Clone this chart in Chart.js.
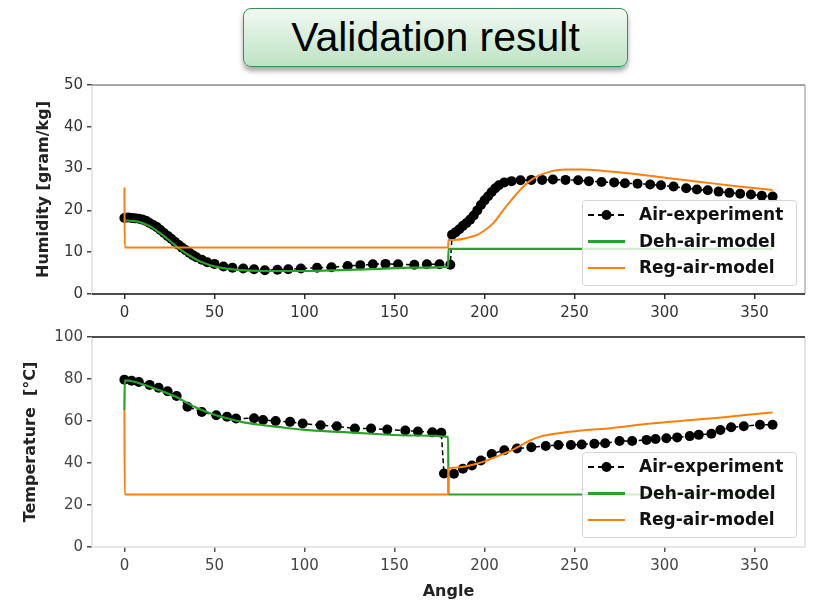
<!DOCTYPE html>
<html>
<head>
<meta charset="utf-8">
<script src="https://cdn.jsdelivr.net/npm/chart.js@4.4.1/dist/chart.umd.min.js"></script>
<style>
  html, body { margin: 0; padding: 0; background: #fff; }
  body { width: 818px; height: 602px; position: relative; overflow: hidden; }
  .title-box {
    position: absolute; left: 243px; top: 8px; width: 383px; height: 57px;
    border: 1.5px solid #3a8f56; border-radius: 8px;
    background: linear-gradient(#f1f9f2, #bde3c4);
    box-shadow: 0 4px 5px rgba(0,0,0,.35);
    display: flex; align-items: center; justify-content: center;
    font-family: 'Liberation Sans', Arial, sans-serif; font-size: 41px; color: #000;
  }
  canvas { position: absolute; left: 0; }
  #chart-hum { top: 70px; }
  #chart-temp { top: 324px; }
</style>
</head>
<body>
<div class="title-box">Validation result</div>
<canvas id="chart-hum" width="818" height="254"></canvas>
<canvas id="chart-temp" width="818" height="278"></canvas>
<script>
/* ── TICKS ── */
const xTicks    = [0, 50, 100, 150, 200, 250, 300, 350];
const humTicks  = [0, 10, 20, 30, 40, 50];
const tempTicks = [0, 20, 40, 60, 80, 100];

/* ── HUMIDITY (top) ── */
const humExpAngle = [0, 2, 4, 6, 8, 10, 12, 14, 16, 18, 20, 22, 24, 26, 28, 30, 32, 34, 36, 38, 40, 43, 46, 50, 55, 60, 66, 72, 78, 85, 91, 98, 107, 115, 124, 131, 138, 145, 152, 161, 168, 175, 181,
  182, 184, 186, 188, 190, 192, 194, 196, 198, 200, 202, 204, 206, 208, 211, 215, 220, 226, 232, 238, 245, 252, 258, 265, 272, 278, 285, 292, 298, 305, 312, 318, 324, 330, 336, 342, 348, 354, 360];
const humExp = [18.2, 18.3, 18.2, 18.1, 18.0, 17.8, 17.5, 17.0, 16.5, 16.0, 15.3, 14.6, 13.9, 13.2, 12.5, 11.8, 11.1, 10.5, 9.9, 9.3, 8.8, 8.2, 7.6, 7.2, 6.6, 6.3, 6.1, 5.9, 5.7, 5.8, 5.9, 6.1, 6.3, 6.4, 6.7, 6.9, 7.1, 7.2, 7.1, 7.0, 7.1, 7.1, 7.0,
  14.2, 14.8, 15.5, 16.3, 17.0, 17.8, 18.8, 20.0, 21.3, 22.4, 23.4, 24.4, 25.3, 26.0, 26.7, 27.0, 27.2, 27.3, 27.3, 27.4, 27.3, 27.2, 27.0, 26.8, 26.7, 26.5, 26.4, 26.2, 26.0, 25.7, 25.3, 25.0, 24.8, 24.5, 24.2, 24.0, 23.8, 23.5, 23.3];

const humDehAngle = [0, 5, 10, 15, 20, 25, 30, 35, 40, 45, 50, 55, 60, 70, 80, 100, 120, 140, 160, 179.8, 180, 360];
const humDeh      = [17.6, 17.5, 17.0, 16.0, 14.5, 12.8, 11.0, 9.5, 8.2, 7.3, 6.6, 6.2, 5.9, 5.6, 5.5, 5.5, 5.7, 6.0, 6.3, 6.5, 10.8, 10.8];

const humRegAngle = [0, 0.2, 179.8, 180, 185, 190, 195, 200, 205, 210, 215, 220, 225, 230, 235, 240, 245, 255, 265, 280, 300, 320, 340, 360];
const humReg      = [25.5, 11.1, 11.1, 12.9, 13.0, 13.4, 14.0, 15.2, 17.0, 19.8, 22.5, 25.0, 27.0, 28.3, 29.1, 29.6, 29.8, 29.8, 29.5, 28.9, 27.8, 26.8, 25.8, 24.9];

/* ── TEMPERATURE (bottom) ── */
const tempExpAngle = [0, 4, 8, 14, 19, 24, 29, 35, 43, 51, 57, 62, 72, 77, 84, 92, 99, 109, 118, 128, 137, 146, 156, 163, 171, 176,
  177.5, 183, 188, 193, 198, 204, 211, 218, 226, 234, 241, 248, 254, 261, 267, 275, 282, 290, 295, 301, 307, 314, 319, 326, 331, 337, 344, 353, 360];
const tempExp = [79.7, 79.2, 78.6, 77.2, 75.8, 74.2, 71.9, 66.8, 64.3, 62.7, 62.0, 61.2, 61.3, 60.5, 60.0, 59.6, 58.8, 58.0, 57.5, 56.4, 56.4, 55.9, 55.5, 55.0, 54.6, 54.4,
  35.0, 34.9, 37.3, 38.8, 41.2, 44.3, 46.1, 46.9, 47.5, 48.1, 48.6, 48.6, 48.8, 49.2, 49.4, 50.5, 50.5, 51.0, 51.4, 51.8, 52.2, 52.8, 53.4, 53.9, 55.7, 57.0, 57.5, 58.2, 58.2];

const tempDehAngle = [0, 0.2, 5, 10, 15, 20, 25, 30, 35, 40, 45, 50, 55, 65, 75, 85, 100, 120, 140, 160, 179.8, 180, 360];
const tempDeh      = [65, 79.3, 78.8, 77.5, 76.0, 74.5, 72.8, 71.0, 68.5, 66.3, 64.5, 63.0, 61.8, 59.6, 58.2, 57.2, 55.8, 54.8, 53.8, 53.1, 52.4, 25.0, 25.0];

const tempRegAngle = [0, 0.2, 179.8, 180, 185, 190, 195, 200, 205, 210, 215, 220, 225, 230, 235, 245, 255, 270, 290, 310, 330, 345, 360];
const tempReg      = [65, 25, 25, 37.5, 37.9, 38.5, 39.5, 40.8, 42.5, 44.2, 46.0, 48.3, 50.6, 52.3, 53.3, 54.6, 55.6, 56.6, 58.6, 60.1, 61.6, 62.8, 64.1];

const seriesLabels = ['Air-experiment', 'Deh-air-model', 'Reg-air-model'];
const GREEN = '#2ca02c';
const ORANGE = '#ff7f0e';

function pts(xs, ys) { return xs.map((x, i) => ({ x, y: ys[i] })); }

/* ── spines + legend (matplotlib style, legend inside lower right) ── */
const framePlugin = {
  id: 'frame',
  afterDatasetsDraw(chart, args, o) {
    const { ctx, chartArea: a } = chart;
    ctx.save();
    ctx.lineWidth = 1.5;
    const side = (c, x1, y1, x2, y2) => { ctx.strokeStyle = c; ctx.beginPath(); ctx.moveTo(x1, y1); ctx.lineTo(x2, y2); ctx.stroke(); };
    side(o.left, a.left, a.top, a.left, a.bottom);
    side(o.right, a.right, a.top, a.right, a.bottom);
    side(o.bottom, a.left, a.bottom, a.right, a.bottom);
    side(o.top, a.left, a.top, a.right, a.top);

    // legend box
    const w = 214, h = 85;
    const bx = a.right - 9 - w, by = a.bottom - o.legendGap - h;
    ctx.fillStyle = 'rgba(255,255,255,0.8)';
    ctx.strokeStyle = '#d6d6d6';
    ctx.lineWidth = 1;
    ctx.beginPath();
    ctx.roundRect(bx + 0.5, by + 0.5, w, h, 3);
    ctx.fill(); ctx.stroke();

    const rows = [15, 41.5, 68];
    ctx.font = 'bold 17px "DejaVu Sans"';
    ctx.textBaseline = 'middle';
    ctx.fillStyle = '#111';
    seriesLabels.forEach((lab, i) => {
      const y = by + rows[i];
      const ds = chart.data.datasets[i];
      ctx.strokeStyle = ds.borderColor;
      ctx.lineWidth = i === 1 ? 3 : 2;
      ctx.setLineDash(i === 0 ? [6, 4] : []);
      ctx.beginPath(); ctx.moveTo(bx + 6, y); ctx.lineTo(bx + 43, y); ctx.stroke();
      ctx.setLineDash([]);
      if (i === 0) { ctx.beginPath(); ctx.arc(bx + 24.5, y, 5, 0, Math.PI * 2); ctx.fillStyle = '#000'; ctx.fill(); ctx.fillStyle = '#111'; }
      ctx.fillText(lab, bx + 57, y + 1);
    });
    ctx.restore();
  }
};

function makeChart(id, cfg) {
  const tickFont = { family: 'DejaVu Sans', size: 15 };
  const titleFont = { family: 'DejaVu Sans', size: 16, weight: 'bold' };
  return new Chart(document.getElementById(id), {
    type: 'line',
    data: {
      datasets: [
        { label: seriesLabels[0], data: cfg.exp, borderColor: '#000', borderWidth: 1.5, borderDash: [5, 3],
          pointRadius: 5, pointBackgroundColor: '#000', pointBorderWidth: 0, tension: 0, order: 3 },
        { label: seriesLabels[1], data: cfg.deh, borderColor: GREEN, borderWidth: 2.2, pointRadius: 0,
          cubicInterpolationMode: 'monotone', order: 2 },
        { label: seriesLabels[2], data: cfg.reg, borderColor: ORANGE, borderWidth: 2, pointRadius: 0,
          cubicInterpolationMode: 'monotone', order: 1 },
      ],
    },
    options: {
      responsive: false, animation: false, devicePixelRatio: 1,
      layout: { padding: { top: cfg.padTop, right: 13, left: 0, bottom: 0 } },
      plugins: { legend: { display: false }, tooltip: { enabled: false }, frame: cfg.frame },
      scales: {
        x: {
          type: 'linear', min: -18, max: 378,
          afterBuildTicks: s => { s.ticks = xTicks.map(v => ({ value: v })); },
          afterFit: s => { s.height = cfg.xHeight; },
          border: { display: false },
          grid: { drawOnChartArea: false, drawTicks: true, tickLength: 5, color: cfg.tickColor, lineWidth: 1.5 },
          ticks: { font: tickFont, color: cfg.labelColor, padding: 5, maxRotation: 0 },
          title: { display: !!cfg.xTitle, text: cfg.xTitle || '', font: titleFont, color: '#222', padding: { top: 0, bottom: 1 } },
        },
        y: {
          min: cfg.yTicks[0], max: cfg.yTicks[cfg.yTicks.length - 1],
          afterBuildTicks: s => { s.ticks = cfg.yTicks.map(v => ({ value: v })); },
          afterFit: s => { s.width = 92; },
          border: { display: false },
          grid: { drawOnChartArea: false, drawTicks: true, tickLength: 5, color: '#444', lineWidth: 1.5 },
          ticks: { font: tickFont, color: cfg.labelColor, padding: 4 },
          title: { display: true, text: cfg.yTitle, font: titleFont, color: '#222', padding: { top: cfg.yTitlePad, bottom: 0 } },
        },
      },
    },
    plugins: [framePlugin],
  });
}

makeChart('chart-hum', {
  exp: pts(humExpAngle, humExp), deh: pts(humDehAngle, humDeh), reg: pts(humRegAngle, humReg),
  yTicks: humTicks, yTitle: 'Humidity [gram/kg]', yTitlePad: 34, padTop: 15, xHeight: 30,
  tickColor: '#333', labelColor: '#333',
  frame: { top: '#8a8a8a', right: '#b5b5b5', bottom: '#111', left: '#dedede', legendGap: 9 },
});

makeChart('chart-temp', {
  exp: pts(tempExpAngle, tempExp), deh: pts(tempDehAngle, tempDeh), reg: pts(tempRegAngle, tempReg),
  yTicks: tempTicks, yTitle: 'Temperature  [°C]', yTitlePad: 21, padTop: 12, xHeight: 55, xTitle: 'Angle',
  tickColor: '#555', labelColor: '#444',
  frame: { top: '#111', right: '#dedede', bottom: '#dedede', left: '#dedede', legendGap: 10 },
});
</script>
</body>
</html>
